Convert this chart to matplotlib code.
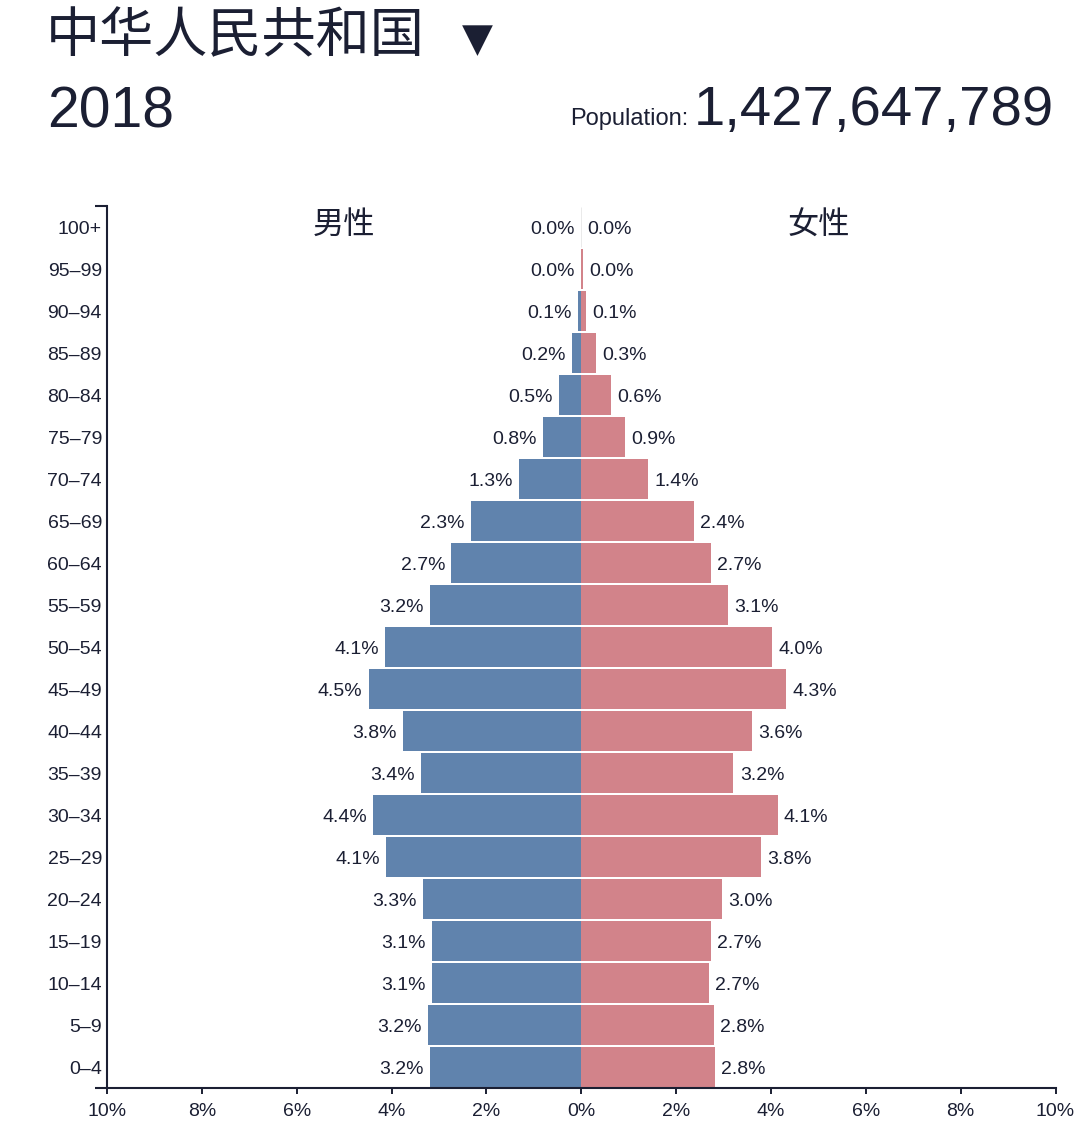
#!/usr/bin/env python
"""
population pyramid, China 2018
"""
import numpy as np
import matplotlib
matplotlib.use("Agg")
import matplotlib.pyplot as mp

mp.rcParams['font.family'] = ['Liberation Sans', 'Noto Sans CJK SC', 'DejaVu Sans']

# data, bottom row first
ages = ["0\u20134", "5\u20139", "10\u201314", "15\u201319", "20\u201324", "25\u201329", "30\u201334",
        "35\u201339", "40\u201344", "45\u201349", "50\u201354", "55\u201359", "60\u201364", "65\u201369",
        "70\u201374", "75\u201379", "80\u201384", "85\u201389", "90\u201394", "95\u201399", "100+"]
male = [3.19, 3.24, 3.14, 3.14, 3.33, 4.11, 4.39, 3.38, 3.76, 4.48, 4.13, 3.18, 2.74, 2.32,
        1.31, 0.81, 0.47, 0.19, 0.06, 0.01, 0.0]
female = [2.82, 2.80, 2.69, 2.73, 2.96, 3.78, 4.14, 3.21, 3.59, 4.32, 4.03, 3.09, 2.73, 2.38,
          1.41, 0.93, 0.62, 0.31, 0.10, 0.03, 0.0]
xticks = [-10, -8, -6, -4, -2, 0, 2, 4, 6, 8, 10]

country = "中华人民共和国"
year = "2018"
population = 1427647789

ink = '#1b1f33'
c_m = '#6083ad'
c_f = '#d2838a'
fs = 14

W, H = 1080, 1130
fig = mp.figure(figsize=(W/100., H/100.), dpi=100)

x0, x1, y0, y1 = 107, 1055.5, 206, 1088
ax = fig.add_axes([x0/W, 1 - y1/H, (x1-x0)/W, (y1-y0)/H])

y = np.arange(len(ages))
m = np.array(male)
f = np.array(female)
ax.barh(y, -m, height=0.95, color=c_m, linewidth=0)
ax.barh(y, f, height=0.95, color=c_f, linewidth=0)
# faint zero line in the top row, like the empty bars of the original
ax.barh(y[-1:], [0.0], height=0.95, left=0, color='none', edgecolor='#e6e6e6', linewidth=0.6)

for yi, v in zip(y, m):
    ax.annotate("%.1f%%" % v, (-v, yi), xytext=(-4.5, -1.5), textcoords='offset points',
                ha='right', va='center', fontsize=fs, color=ink)
for yi, v in zip(y, f):
    ax.annotate("%.1f%%" % v, (v, yi), xytext=(4.5, -1.5), textcoords='offset points',
                ha='left', va='center', fontsize=fs, color=ink)

ax.set_xlim(-10, 10)
ax.set_ylim(-0.5, len(ages) - 0.5)
ax.set_xticks(xticks)
ax.set_xticklabels(["%d%%" % abs(t) for t in xticks])
ax.set_yticks(y)
ax.set_yticklabels(ages)
ax.tick_params(axis='x', length=4.5, width=1.4, color=ink, labelcolor=ink, labelsize=fs, pad=6)
ax.tick_params(axis='y', length=0, labelcolor=ink, labelsize=fs, pad=3.6)
for s in ['top', 'right']:
    ax.spines[s].set_visible(False)
for s in ['left', 'bottom']:
    ax.spines[s].set_color(ink)
    ax.spines[s].set_linewidth(1.5)

# outer ticks of the y axis (d3 style)
ext = 12. / (x1 - x0)
ax.plot([-ext, 0], [0, 0], transform=ax.transAxes, clip_on=False, color=ink, lw=1.5, solid_capstyle='butt')
ax.plot([-ext, 0], [1, 1], transform=ax.transAxes, clip_on=False, color=ink, lw=1.5, solid_capstyle='butt')

# side headers
ax.text(0.25, 0.977, "男性", transform=ax.transAxes, ha='center', va='center', fontsize=22.5, color=ink)
ax.text(0.75, 0.977, "女性", transform=ax.transAxes, ha='center', va='center', fontsize=22.5, color=ink)

# header block
fig.text(46/W, 1 - 38/H, country, ha='left', va='center', fontsize=39, color=ink)
fig.text(477/W, 1 - 40/H, "\u25bc", ha='center', va='center', fontsize=29, color=ink, family='DejaVu Sans')
fig.text(47/W, 1 - 127/H, year, ha='left', va='baseline', fontsize=41, color=ink)
fig.text(1054/W, 1 - 125/H, "{:,}".format(population), ha='right', va='baseline', fontsize=40.5, color=ink)
fig.text(688/W, 1 - 125/H, "Population:", ha='right', va='baseline', fontsize=17, color=ink)

fig.savefig("out.png", dpi=100)
